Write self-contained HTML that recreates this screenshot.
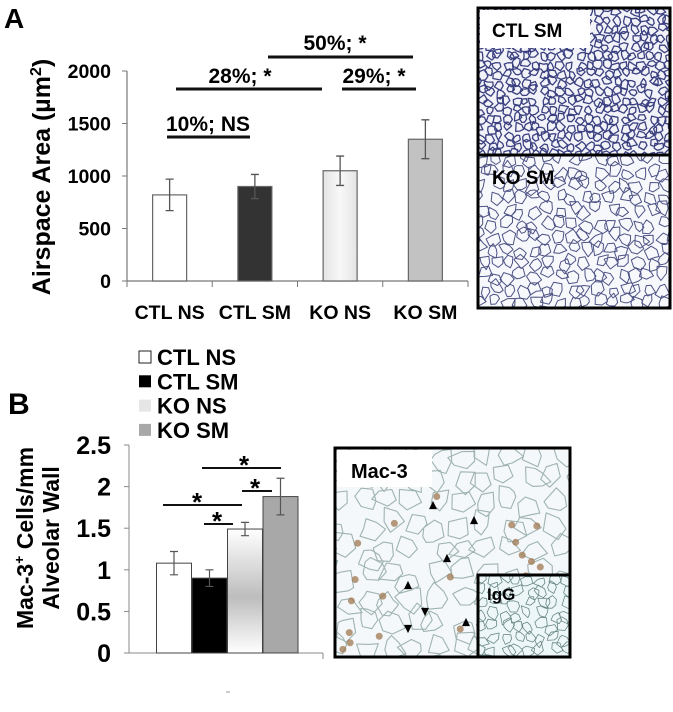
<!DOCTYPE html>
<html><head><meta charset="utf-8">
<style>
html,body{margin:0;padding:0;background:#fff;}
svg{display:block;font-family:"Liberation Sans",Arial,sans-serif;font-weight:bold;}
</style></head>
<body>
<svg id="fig" width="673" height="712" viewBox="0 0 673 712" xmlns="http://www.w3.org/2000/svg">
<defs>
<linearGradient id="gA" x1="0" x2="1" y1="0" y2="0"><stop offset="0" stop-color="#e4e4e4"/><stop offset="0.5" stop-color="#f8f8f8"/><stop offset="1" stop-color="#e4e4e4"/></linearGradient>
<linearGradient id="gB" x1="0" x2="0" y1="0" y2="1"><stop offset="0" stop-color="#fff"/><stop offset="0.55" stop-color="#bdbdbd"/><stop offset="1" stop-color="#fff"/></linearGradient>
<clipPath id="c1"><rect x="478" y="8" width="192" height="147"/></clipPath>
<clipPath id="c2"><rect x="478" y="155" width="192" height="153"/></clipPath>
<clipPath id="c3"><rect x="335" y="448" width="235" height="209"/></clipPath>
<clipPath id="c4"><rect x="478" y="575" width="92" height="82"/></clipPath>
</defs>
<text x="4" y="28" font-size="28">A</text>
<text x="8" y="414" font-size="30">B</text>
<g id="chartA"></g>
<g id="chartB"></g>
<g id="micro"></g>
</svg>
<script>
// Chart A data
const catsA = ["CTL NS","CTL SM","KO NS","KO SM"];
const valsA = [820, 900, 1050, 1350];
const errA = [150, 115, 140, 185];
const ticksA = [0, 500, 1000, 1500, 2000];
// Chart B data
const catsB = ["CTL NS","CTL SM","KO NS","KO SM"];
const valsB = [1.08, 0.9, 1.49, 1.88];
const errB = [0.14, 0.1, 0.08, 0.22];
const ticksB = [0, 0.5, 1, 1.5, 2, 2.5];

const NS = "http://www.w3.org/2000/svg";
function mk(parent, tag, attrs, text){
  const e = document.createElementNS(NS, tag);
  for (const k in attrs) e.setAttribute(k, attrs[k]);
  if (text !== undefined) e.textContent = text;
  parent.appendChild(e);
  return e;
}
// ---- Chart A
const A = document.getElementById('chartA');
const yA = v => 281 - v * (210/2000);
const xA0 = 127, bandA = 85.25;
const xA = i => xA0 + bandA * i + bandA/2;
const fillsA = ["#ffffff","#333333","url(#gA)","#c2c2c2"];
let e;
e = mk(A,'line',{x1:127,y1:yA(2000),x2:127,y2:281,stroke:'#777','stroke-width':1.2});
 
e = mk(A,'line',{x1:127,y1:281,x2:468,y2:281,stroke:'#777','stroke-width':1.2});
 
ticksA.forEach(t=>{
  e = mk(A,'line',{x1:122,y1:yA(t),x2:127,y2:yA(t),stroke:'#777'});
   
  e = mk(A,'text',{x:111,y:yA(t)+7,'font-size':19.5,'text-anchor':'end'},String(t));
   
});
for(let i=0;i<=4;i++){
  e = mk(A,'line',{x1:xA0+bandA*i,y1:281,x2:xA0+bandA*i,y2:287,stroke:'#777'});
   
}
catsA.forEach((c,i)=>{
  const cx = xA(i);
  e = mk(A,'rect',{x:cx-17,y:yA(valsA[i]),width:34,height:281-yA(valsA[i]),fill:fillsA[i],stroke:'#666','stroke-width':1.2});
   
  const t=yA(valsA[i]+errA[i]), b=yA(valsA[i]-errA[i]);
  e = mk(A,'path',{d:`M${cx} ${t}V${b}M${cx-4} ${t}H${cx+4}M${cx-4} ${b}H${cx+4}`,stroke:'#555','stroke-width':1.3,fill:'none'});
   
  e = mk(A,'text',{x:cx,y:319,'font-size':19.5,'text-anchor':'middle'},c);
   
});
e = mk(A,'text',{x:0,y:0,'font-size':25,'text-anchor':'middle',transform:'translate(50,177) rotate(-90)'});
 
e.innerHTML='Airspace Area (µm<tspan dy="-9" font-size="16">2</tspan><tspan dy="9">)</tspan>';
const sigA = [["10%; NS",167,250,137,208,131],["28%; *",176,322,89,240,83],["29%; *",342,416,89,374,83],["50%; *",268,413,57,335,50]];
sigA.forEach(s=>{
  e = mk(A,'line',{x1:s[1],y1:s[3],x2:s[2],y2:s[3],stroke:'#111','stroke-width':3});
   
  e = mk(A,'text',{x:s[4],y:s[5],'font-size':21,'text-anchor':'middle'},s[0]);
   
});
// ---- Chart B
const B = document.getElementById('chartB');
const yB = v => 653 - v * (208/2.5);
const xB = i => 174 + 35.5 * i;
const fillsB = ["#ffffff","#000000","url(#gB)","#a8a8a8"];
e = mk(B,'line',{x1:129,y1:yB(2.5),x2:129,y2:653,stroke:'#888','stroke-width':1});
 
e = mk(B,'line',{x1:129,y1:653,x2:323,y2:653,stroke:'#888','stroke-width':1});
 
e = mk(B,'line',{x1:323,y1:653,x2:323,y2:659,stroke:'#888'});
 
ticksB.forEach(t=>{
  e = mk(B,'line',{x1:124,y1:yB(t),x2:129,y2:yB(t),stroke:'#888'});
   
  e = mk(B,'text',{x:111,y:yB(t)+9,'font-size':25,'text-anchor':'end'},String(t));
   
});
catsB.forEach((c,i)=>{
  const cx = xB(i);
  e = mk(B,'rect',{x:cx-17.5,y:yB(valsB[i]),width:35,height:653-yB(valsB[i]),fill:fillsB[i],stroke:'#444','stroke-width':1});
   
  const t=yB(valsB[i]+errB[i]), b=yB(valsB[i]-errB[i]);
  e = mk(B,'path',{d:`M${cx} ${t}V${b}M${cx-4} ${t}H${cx+4}M${cx-4} ${b}H${cx+4}`,stroke:'#555','stroke-width':1.2,fill:'none'});
   
  const ly = 357 + 24.3*i;
  const lf = ["#fff","#000","#e6e6e6","#a8a8a8"][i];
  e = mk(B,'rect',{x:139,y:ly-6,width:12,height:12,fill:lf,stroke:i==0?'#222':'none','stroke-width':1});
   
  e = mk(B,'text',{x:157,y:ly+8,'font-size':22},c);
   
});
e = mk(B,'text',{x:0,y:0,'font-size':23,'text-anchor':'middle',transform:'translate(33,538) rotate(-90)'});
 
e.innerHTML='Mac-3<tspan dy="-9" font-size="14">+</tspan><tspan dy="9"> Cells/mm</tspan>';
e = mk(B,'text',{x:0,y:0,'font-size':23,'text-anchor':'middle',transform:'translate(59,538) rotate(-90)'},'Alveolar Wall');
 
const sigB = [[163,242,505,197],[204,233,524,217],[202,281,468,244],[242,272,491,255]];
sigB.forEach(s=>{
  e = mk(B,'line',{x1:s[0],y1:s[2],x2:s[1],y2:s[2],stroke:'#111','stroke-width':2});
   
  e = mk(B,'text',{x:s[3],y:s[2]+6,'font-size':26,'text-anchor':'middle'},'*');
   
});
e = mk(B,'line',{x1:226,y1:692,x2:230,y2:692,stroke:'#999'});
 

// ---- Micrographs (texture)
const M = document.getElementById('micro');
let seed = 7;
function rnd(){ seed = (seed*16807)%2147483647; return seed/2147483647; }
function tissue(g, x0,y0,w,h,cell,col,sw,bg){
  mk(g,'rect',{x:x0,y:y0,width:w,height:h,fill:bg});
  let d='';
  for(let y=y0-cell;y<y0+h+cell;y+=cell){
    for(let x=x0-cell;x<x0+w+cell;x+=cell){
      const cx = x+rnd()*cell*0.6, cy=y+rnd()*cell*0.6;
      const n=5+Math.floor(rnd()*3); let p='';
      for(let k=0;k<n;k++){
        const a=k/n*Math.PI*2+rnd()*0.5, rr=cell*(0.3+rnd()*0.35);
        p+=(k?'L':'M')+(cx+rr*Math.cos(a)).toFixed(1)+' '+(cy+rr*Math.sin(a)).toFixed(1);
      }
      d+=p+'Z';
    }
  }
  mk(g,'path',{d:d,fill:'none',stroke:col,'stroke-width':sw,'stroke-linejoin':'round'});
}
let g1 = mk(M,'g',{'clip-path':'url(#c1)'});
 
tissue(g1,478,8,192,147,9,'#3b4080',1.3,'#f2f3f8');
mk(g1,'rect',{x:480,y:10,width:110,height:38,fill:'#fff'});
let g2 = mk(M,'g',{'clip-path':'url(#c2)'});
 
tissue(g2,478,155,192,153,13,'#4d5285',1.0,'#f7f8fb');
let g3 = mk(M,'g',{'clip-path':'url(#c3)'});
 
tissue(g3,335,448,235,209,24,'#9fb3b0',1.1,'#f4f8fa');
for(let i=0;i<22;i++){ mk(g3,'circle',{cx:340+rnd()*225,cy:490+rnd()*165,r:3.5,fill:'#a07850',opacity:0.75}); }
mk(g3,'rect',{x:337,y:450,width:95,height:37,fill:'#fff'});
const arrows=[[433,505,1],[474,520,1],[447,558,1],[408,585,1],[425,612,-1],[408,629,-1],[466,622,1]];
arrows.forEach(a=>{ const d=a[2]*5; mk(g3,'path',{d:`M${a[0]-4} ${a[1]+d/1.2}L${a[0]+4} ${a[1]+d/1.2}L${a[0]} ${a[1]-d/1.2}Z`,fill:'#000'}); });
let g4 = mk(M,'g',{'clip-path':'url(#c4)'});
 
tissue(g4,478,575,92,82,12,'#6a8787',0.8,'#eef7f8');
mk(M,'rect',{x:478,y:8,width:192,height:300,fill:'none',stroke:'#000','stroke-width':3});
mk(M,'line',{x1:478,y1:155,x2:670,y2:155,stroke:'#000','stroke-width':3});
mk(M,'rect',{x:335,y:448,width:235,height:209,fill:'none',stroke:'#000','stroke-width':3});
mk(M,'rect',{x:478,y:575,width:92,height:82,fill:'none',stroke:'#000','stroke-width':3});
e = mk(M,'text',{x:492,y:37,'font-size':19},'CTL SM');  
e = mk(M,'text',{x:492,y:184,'font-size':19},'KO SM');  
e = mk(M,'text',{x:351,y:478,'font-size':20},'Mac-3');  
e = mk(M,'text',{x:487,y:600,'font-size':17},'IgG');  
</script>
</body></html>
